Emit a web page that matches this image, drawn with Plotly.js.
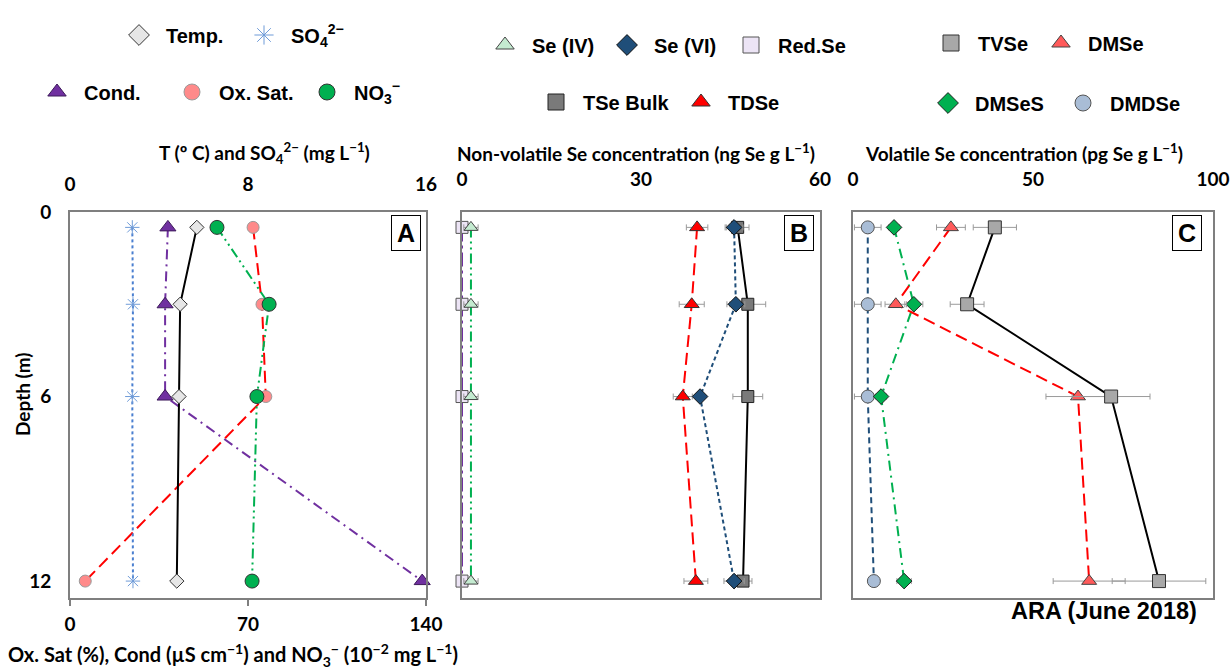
<!DOCTYPE html>
<html>
<head>
<meta charset="utf-8">
<script src="https://cdn.plot.ly/plotly-3.0.1.min.js"></script>
<style>html,body{margin:0;padding:0;background:#fff;}#chart{width:1231px;height:670px;}</style>
</head>
<body>
<div id="chart"></div>
<script>
// ---------- data ----------
const depths = [0.5, 3, 6, 12];

// Panel A
const tempC   = [5.7, 4.95, 4.9, 4.8];        // top axis (0-16)
const so4     = [2.8, 2.83, 2.8, 2.83];       // top axis (0-16)
const cond    = [38.5, 37.4, 37.4, 138.5];    // bottom axis (0-140)
const oxSat   = [72, 75.5, 77, 6];            // bottom axis
const no3     = [57.8, 78.3, 73.5, 71.6];     // bottom axis

// Panel B (ng Se g L-1)
const seIV     = [1.5, 1.5, 1.5, 1.5];
const seIVErr  = [1.2, 1.2, 1.2, 1.2];
const seVI     = [45.6, 45.9, 39.9, 45.6];
const seVIErr  = [1.5, 1.5, 0.7, 1.7];
const redSe    = [0, 0, 0, 0];
const tseBulk  = [46.2, 47.9, 47.9, 47.1];
const tseErr   = [1.9, 3.0, 2.5, 1.5];
const tdse     = [39.4, 38.5, 37.0, 39.2];
const tdseErr  = [1.8, 2.1, 1.6, 2.0];

// Panel C (pg Se g L-1)
const tvse      = [39.4, 31.7, 71.7, 85.0];
const tvseErr   = [6, 4.7, 10.8, 13];
const dmse      = [27.2, 11.9, 62.5, 65.6];
const dmseErr   = [4, 3, 8.9, 10];
const dmses     = [11.4, 16.9, 7.8, 14.2];
const dmsesErr  = [1.5, 2.5, 1.5, 2];
const dmdse     = [4.1, 4.1, 4.1, 5.8];
const dmdseErr  = [3.7, 3.7, 3.7, 0];

const ticksA_bottom = [0, 70, 140];
const ticksA_top    = [0, 8, 16];
const ticksB        = [0, 30, 60];
const ticksC        = [0, 50, 100];
const ticksDepth    = [0, 6, 12];

// ---------- helpers ----------
const W = 1231, H = 670;
const px = x => x / W;
const py = y => 1 - y / H;

const errStyle = {color: '#9a9a9a', thickness: 1, width: 3};

function series(x, xa, ya, color, dash, symbol, fill, outline, size, err) {
  const t = {
    x: x, y: depths, xaxis: xa, yaxis: ya, type: 'scatter', mode: 'lines+markers',
    showlegend: false, cliponaxis: false,
    line: {color: color, width: 2, dash: dash},
    marker: {symbol: symbol, size: size, color: fill, line: {color: outline, width: 1}}
  };
  if (err) t.error_x = Object.assign({type: 'data', array: err, visible: true}, errStyle);
  return t;
}
function legendItem(name, legend, symbol, fill, outline) {
  return {
    x: [null], y: [null], xaxis: 'x', yaxis: 'y', type: 'scatter', mode: 'markers',
    name: name, legend: legend, showlegend: true,
    marker: {symbol: symbol, size: 16, color: fill, line: {color: outline, width: 1}}
  };
}

const DASHDOT = '10px,5px,2px,5px';
const DASHDOTDOT = '10px,4px,2px,4px,2px,4px';
const LONGDASH = '12px,6px';

const traces = [
  // Panel A
  series(so4, 'x2', 'y', '#4a7fd0', '3px,3px', 'asterisk-open', '#6f9bd8', '#6f9bd8', 12),
  series(tempC, 'x2', 'y', '#000000', 'solid', 'diamond', '#e6e6e6', '#333333', 11),
  series(cond, 'x', 'y', '#7030a0', DASHDOT, 'triangle-up', '#7030a0', '#3d1a5a', 14),
  series(oxSat, 'x', 'y', '#ff0000', LONGDASH, 'circle', '#ff8a8a', '#9a9a9a', 12),
  series(no3, 'x', 'y', '#00b050', DASHDOTDOT, 'circle', '#00b050', '#333333', 14),
  // Panel B
  series(redSe, 'x3', 'y2', '#7030a0', '14px,4px,3px,4px', 'square', '#ece4f5', '#555555', 12),
  series(seIV, 'x3', 'y2', '#00b050', DASHDOTDOT, 'triangle-up', '#c4ebd0', '#444444', 12, seIVErr),
  series(tdse, 'x3', 'y2', '#ff0000', LONGDASH, 'triangle-up', '#ff0000', '#333333', 13, tdseErr),
  series(tseBulk, 'x3', 'y2', '#000000', 'solid', 'square', '#7a7a7a', '#222222', 12, tseErr),
  series(seVI, 'x3', 'y2', '#1f4e79', '4px,3px', 'diamond', '#1f4e79', '#111111', 12, seVIErr),
  // Panel C
  series(dmdse, 'x4', 'y3', '#1f4e79', '6px,4px', 'circle', '#a9bdd6', '#555555', 13, dmdseErr),
  series(dmses, 'x4', 'y3', '#00b050', DASHDOT, 'diamond', '#00b050', '#222222', 12, dmsesErr),
  series(dmse, 'x4', 'y3', '#ff0000', LONGDASH, 'triangle-up', '#ff5a5a', '#444444', 13, dmseErr),
  series(tvse, 'x4', 'y3', '#000000', 'solid', 'square', '#a8a8a8', '#333333', 13, tvseErr),
  // Legend entries
  legendItem('Temp.', 'legend', 'diamond', '#e6e6e6', '#333333'),
  legendItem('SO<sub>4</sub><sup>2−</sup>', 'legend', 'asterisk-open', '#6f9bd8', '#6f9bd8'),
  legendItem('Cond.', 'legend2', 'triangle-up', '#7030a0', '#3d1a5a'),
  legendItem('Ox. Sat.', 'legend2', 'circle', '#ff8a8a', '#9a9a9a'),
  legendItem('NO<sub>3</sub><sup>−</sup>', 'legend2', 'circle', '#00b050', '#333333'),
  legendItem('Se (IV)', 'legend3', 'triangle-up', '#c4ebd0', '#444444'),
  legendItem('Se (VI)', 'legend3', 'diamond', '#1f4e79', '#111111'),
  legendItem('Red.Se', 'legend7', 'square', '#ece4f5', '#555555'),
  legendItem('TSe Bulk', 'legend4', 'square', '#7a7a7a', '#222222'),
  legendItem('TDSe', 'legend4', 'triangle-up', '#ff0000', '#333333'),
  legendItem('TVSe', 'legend5', 'square', '#a8a8a8', '#333333'),
  legendItem('DMSe', 'legend8', 'triangle-up', '#ff5a5a', '#444444'),
  legendItem('DMSeS', 'legend6', 'diamond', '#00b050', '#222222'),
  legendItem('DMDSe', 'legend6', 'circle', '#a9bdd6', '#555555')
];

const tickFont = {family: 'Lato, Liberation Sans, sans-serif', size: 19, color: '#000', weight: 'bold'};
const titleFont = {family: 'Lato, Liberation Sans, sans-serif', size: 19, color: '#000', weight: 'bold'};
const legFont = {family: 'Liberation Sans, Arial, sans-serif', size: 20, color: '#000', weight: 'bold'};
const frame = {showline: true, mirror: true, linecolor: '#7f7f7f', linewidth: 2, showgrid: false, zeroline: false};
const yDomain = [py(598), py(212)];
const yRange = [12.55, 0];

function leg(xLeft, yMid, ew) {
  const l = {x: px(xLeft), y: py(yMid), xanchor: 'left', yanchor: 'middle', orientation: 'h',
          bgcolor: 'rgba(0,0,0,0)', font: legFont, itemwidth: 44,
          itemclick: false, itemdoubleclick: false};
  if (ew) { l.entrywidth = ew; l.entrywidthmode = 'pixels'; }
  return l;
}

const layout = {
  width: W, height: H,
  margin: {l: 0, r: 0, t: 0, b: 0},
  paper_bgcolor: '#fff', plot_bgcolor: '#fff',
  showlegend: true,
  xaxis: Object.assign({domain: [px(70), px(426)], range: [0, 140], tickvals: ticksA_bottom, anchor: 'y', side: 'bottom',
          ticks: 'outside', ticklen: 6, tickcolor: '#7f7f7f', tickwidth: 1.5, tickfont: tickFont, ticklabelstandoff: 2}, frame),
  xaxis2: {overlaying: 'x', anchor: 'y', side: 'top', range: [0, 16], tickvals: ticksA_top, showline: false, showgrid: false,
          zeroline: false, ticks: '', tickfont: tickFont, ticklabelstandoff: 16},
  xaxis3: Object.assign({domain: [px(462), px(820)], range: [0, 60], tickvals: ticksB, anchor: 'y2', side: 'top',
          ticks: '', tickfont: tickFont, ticklabelstandoff: 16}, frame),
  xaxis4: Object.assign({domain: [px(853), px(1213)], range: [0, 100], tickvals: ticksC, anchor: 'y3', side: 'top',
          ticks: '', tickfont: tickFont, ticklabelstandoff: 16}, frame),
  yaxis: Object.assign({domain: yDomain, range: yRange, tickvals: ticksDepth, anchor: 'x', ticks: '',
          tickfont: tickFont, ticklabelstandoff: 13}, frame),
  yaxis2: Object.assign({domain: yDomain, range: yRange, anchor: 'x3', showticklabels: false, ticks: ''}, frame),
  yaxis3: Object.assign({domain: yDomain, range: yRange, anchor: 'x4', showticklabels: false, ticks: ''}, frame),
  legend:  leg(112, 35, 66),
  legend2: leg(30, 92, 76),
  legend3: leg(478, 45, 63),
  legend7: leg(724, 45),
  legend4: leg(529, 102, 86),
  legend5: leg(924, 43),
  legend8: leg(1034, 43),
  legend6: leg(921, 103, 76),
  annotations: [
    {text: 'T (º C) and SO<sub>4</sub><sup>2−</sup> (mg L<sup>−1</sup>)', x: px(264), y: py(153), xref: 'paper', yref: 'paper',
     xanchor: 'center', yanchor: 'middle', showarrow: false, font: titleFont},
    {text: 'Non-volatile Se concentration (ng Se g L<sup>−1</sup>)', x: px(636), y: py(153), xref: 'paper', yref: 'paper',
     xanchor: 'center', yanchor: 'middle', showarrow: false, font: titleFont},
    {text: 'Volatile Se concentration (pg Se g L<sup>−1</sup>)', x: px(1024), y: py(153), xref: 'paper', yref: 'paper',
     xanchor: 'center', yanchor: 'middle', showarrow: false, font: titleFont},
    {text: 'Ox. Sat (%), Cond (µS cm<sup>−1</sup>) and NO<sub>3</sub><sup>−</sup> (10<sup>−2</sup> mg L<sup>−1</sup>)',
     x: px(233), y: py(655), xref: 'paper', yref: 'paper', xanchor: 'center', yanchor: 'middle', showarrow: false,
     font: {family: 'Lato, Liberation Sans, sans-serif', size: 20, color: '#000', weight: 'bold'}},
    {text: 'Depth (m)', x: px(22), y: py(395), xref: 'paper', yref: 'paper', xanchor: 'center', yanchor: 'middle',
     textangle: -90, showarrow: false, font: titleFont},
    {text: 'ARA (June 2018)', x: px(1104), y: py(611), xref: 'paper', yref: 'paper', xanchor: 'center', yanchor: 'middle',
     showarrow: false, font: {family: 'Liberation Sans, Arial, sans-serif', size: 23.5, color: '#000', weight: 'bold'}},
    {text: 'A', x: px(406), y: py(233), xref: 'paper', yref: 'paper', xanchor: 'center', yanchor: 'middle', showarrow: false,
     font: {family: 'Liberation Sans, Arial, sans-serif', size: 25, color: '#000', weight: 'bold'},
     bordercolor: '#000', borderwidth: 1, borderpad: 2, bgcolor: '#fff', width: 24, height: 30},
    {text: 'B', x: px(799), y: py(233), xref: 'paper', yref: 'paper', xanchor: 'center', yanchor: 'middle', showarrow: false,
     font: {family: 'Liberation Sans, Arial, sans-serif', size: 25, color: '#000', weight: 'bold'},
     bordercolor: '#000', borderwidth: 1, borderpad: 2, bgcolor: '#fff', width: 24, height: 30},
    {text: 'C', x: px(1187), y: py(233), xref: 'paper', yref: 'paper', xanchor: 'center', yanchor: 'middle', showarrow: false,
     font: {family: 'Liberation Sans, Arial, sans-serif', size: 25, color: '#000', weight: 'bold'},
     bordercolor: '#000', borderwidth: 1, borderpad: 2, bgcolor: '#fff', width: 24, height: 30}
  ]
};

Plotly.newPlot('chart', traces, layout, {displayModeBar: false, staticPlot: true});
</script>
</body>
</html>
